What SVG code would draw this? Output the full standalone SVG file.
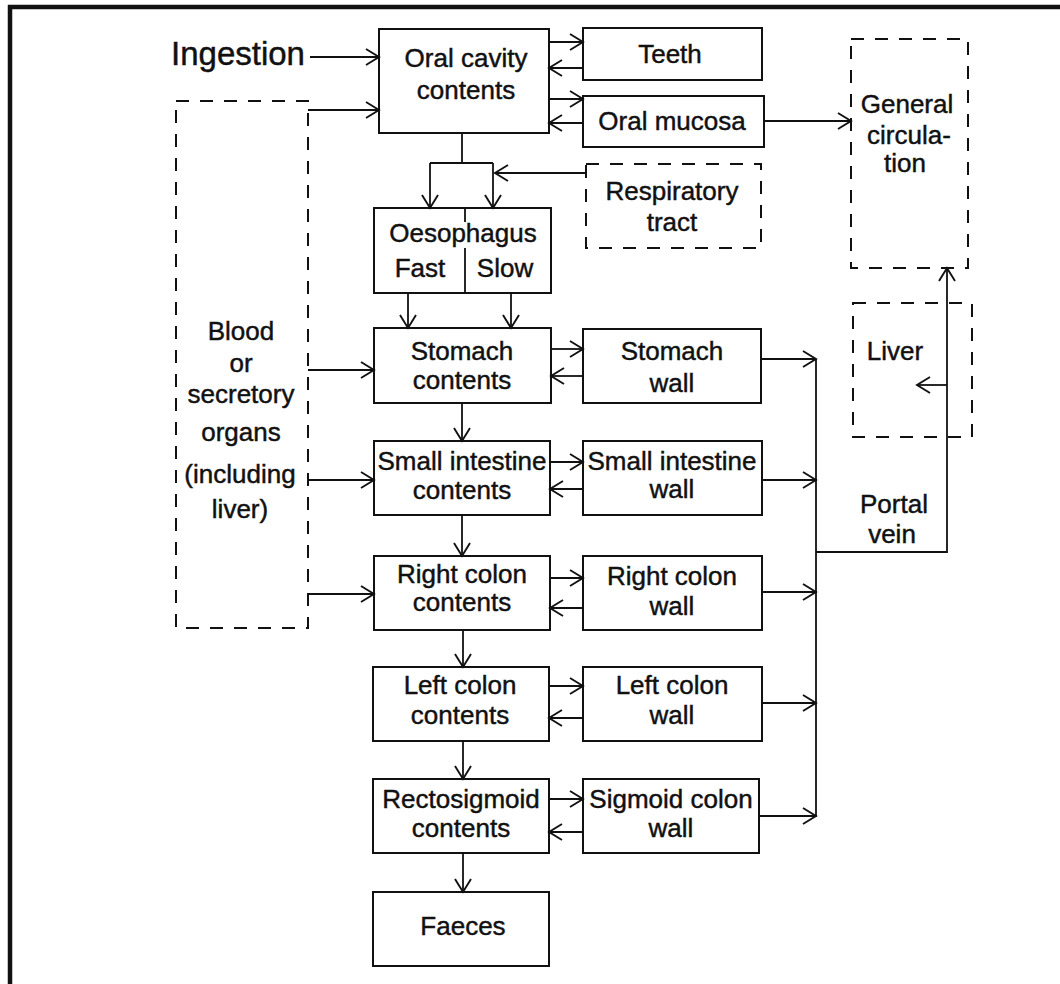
<svg xmlns="http://www.w3.org/2000/svg" width="1060" height="984" viewBox="0 0 1060 984">
<style>
.box{fill:#fff;stroke:#111;stroke-width:2}
.dash{fill:none;stroke:#111;stroke-width:2;stroke-dasharray:13 11}
.t{font-family:"Liberation Sans",Arial,sans-serif;font-size:26px;fill:#111;stroke:#111;stroke-width:0.45;text-anchor:middle}
.c{fill:none;stroke:#111;stroke-width:1.8}
.a{marker-end:url(#arr)}
</style>
<defs>
<marker id="arr" viewBox="-17 -11 19 22" markerWidth="19" markerHeight="22" refX="0" refY="0" markerUnits="userSpaceOnUse" orient="auto">
<path d="M-13,-8 L0,0 L-13,8" fill="none" stroke="#111" stroke-width="1.9"/>
</marker>
</defs>
<rect width="1060" height="984" fill="#fff"/>
<g id="frame">
<path d="M8,7 H1060" stroke="#111" stroke-width="4.5"/>
<path d="M10,5 V984" stroke="#111" stroke-width="4.5"/>
</g>
<g id="ingestion"><text class="t" x="238" y="65" style="font-size:33px">Ingestion</text></g>
<g id="oral"><rect class="box" x="379" y="29" width="170" height="104"/><text class="t" x="466" y="67">Oral cavity</text><text class="t" x="466" y="99">contents</text></g>
<g id="teeth"><rect class="box" x="583" y="28" width="179" height="52"/><text class="t" x="670" y="63">Teeth</text></g>
<g id="mucosa"><rect class="box" x="583" y="96" width="181" height="51"/><text class="t" x="672" y="130">Oral mucosa</text></g>
<g id="gencirc"><rect class="dash" x="851" y="39" width="117" height="229"/><text class="t" x="907" y="113">General</text><text class="t" x="909" y="144">circula-</text><text class="t" x="905" y="172">tion</text></g>
<g id="resp"><rect class="dash" x="586" y="164" width="175" height="84"/><text class="t" x="672" y="200">Respiratory</text><text class="t" x="672" y="231">tract</text></g>
<g id="blood"><rect class="dash" x="176" y="101" width="132" height="527"/>
<text class="t" x="241" y="340">Blood</text><text class="t" x="241" y="372">or</text><text class="t" x="241" y="403">secretory</text><text class="t" x="241" y="441">organs</text><text class="t" x="240" y="483">(including</text><text class="t" x="240" y="518">liver)</text></g>
<g id="oesophagus"><rect class="box" x="374" y="208" width="177" height="85"/>
<path d="M465,208 V222 M465,248 V293" stroke="#111" stroke-width="1.8"/>
<text class="t" x="463" y="242">Oesophagus</text><text class="t" x="420" y="277">Fast</text><text class="t" x="505" y="277">Slow</text></g>
<g id="stomach"><rect class="box" x="374" y="328" width="177" height="75"/><text class="t" x="462" y="360">Stomach</text><text class="t" x="462" y="389">contents</text></g>
<g id="stomachwall"><rect class="box" x="583" y="329" width="178" height="74"/><text class="t" x="672" y="360">Stomach</text><text class="t" x="672" y="392">wall</text></g>
<g id="si"><rect class="box" x="374" y="441" width="176" height="74"/><text class="t" x="462" y="470">Small intestine</text><text class="t" x="462" y="499">contents</text></g>
<g id="siwall"><rect class="box" x="583" y="441" width="179" height="74"/><text class="t" x="672" y="470">Small intestine</text><text class="t" x="672" y="498">wall</text></g>
<g id="rc"><rect class="box" x="374" y="556" width="176" height="74"/><text class="t" x="462" y="583">Right colon</text><text class="t" x="462" y="611">contents</text></g>
<g id="rcwall"><rect class="box" x="583" y="556" width="179" height="74"/><text class="t" x="672" y="585">Right colon</text><text class="t" x="672" y="615">wall</text></g>
<g id="lc"><rect class="box" x="373" y="667" width="176" height="74"/><text class="t" x="460" y="694">Left colon</text><text class="t" x="460" y="724">contents</text></g>
<g id="lcwall"><rect class="box" x="583" y="667" width="179" height="74"/><text class="t" x="672" y="694">Left colon</text><text class="t" x="672" y="724">wall</text></g>
<g id="recto"><rect class="box" x="373" y="779" width="176" height="74"/><text class="t" x="461" y="808">Rectosigmoid</text><text class="t" x="461" y="837">contents</text></g>
<g id="sigwall"><rect class="box" x="583" y="779" width="176" height="74"/><text class="t" x="671" y="808">Sigmoid colon</text><text class="t" x="671" y="837">wall</text></g>
<g id="faeces"><rect class="box" x="373" y="892" width="176" height="74"/><text class="t" x="463" y="935">Faeces</text></g>
<g id="liver"><rect class="dash" x="853" y="303" width="119" height="134"/><text class="t" x="895" y="360">Liver</text></g>
<g id="portal"><text class="t" x="894" y="513">Portal</text><text class="t" x="892" y="543">vein</text></g>
<g id="connectors">
<path class="c a" d="M310,57 H379"/>
<path class="c a" d="M308,110 H379"/>
<path class="c a" d="M549,42 H583"/>
<path class="c a" d="M583,68 H549"/>
<path class="c a" d="M549,99 H583"/>
<path class="c a" d="M583,123 H549"/>
<path class="c a" d="M764,121 H851"/>
<path class="c" d="M462,133 V163 M430,163 H493"/>
<path class="c a" d="M430,163 V208"/>
<path class="c a" d="M493,163 V208"/>
<path class="c a" d="M586,173 H495"/>
<path class="c a" d="M408,293 V328"/>
<path class="c a" d="M511,293 V328"/>
<path class="c a" d="M308,370 H374"/>
<path class="c a" d="M551,349 H583"/>
<path class="c a" d="M583,376 H551"/>
<path class="c a" d="M462,403 V441"/>
<path class="c a" d="M309,480 H374"/>
<path class="c a" d="M550,462 H583"/>
<path class="c a" d="M583,489 H550"/>
<path class="c a" d="M462,515 V556"/>
<path class="c a" d="M309,594 H374"/>
<path class="c a" d="M550,578 H583"/>
<path class="c a" d="M583,608 H550"/>
<path class="c a" d="M463,630 V667"/>
<path class="c a" d="M549,686 H583"/>
<path class="c a" d="M583,718 H549"/>
<path class="c a" d="M463,741 V779"/>
<path class="c a" d="M549,799 H583"/>
<path class="c a" d="M583,832 H549"/>
<path class="c a" d="M463,853 V892"/>
<path class="c a" d="M761,359 H816"/>
<path class="c a" d="M762,480 H816"/>
<path class="c a" d="M762,592 H816"/>
<path class="c a" d="M762,703 H816"/>
<path class="c a" d="M759,816 H816"/>
<path class="c" d="M816,359 V817"/>
<path class="c a" d="M816,552 H947 V268"/>
<path class="c a" d="M947,385 H917"/>
</g>
</svg>
